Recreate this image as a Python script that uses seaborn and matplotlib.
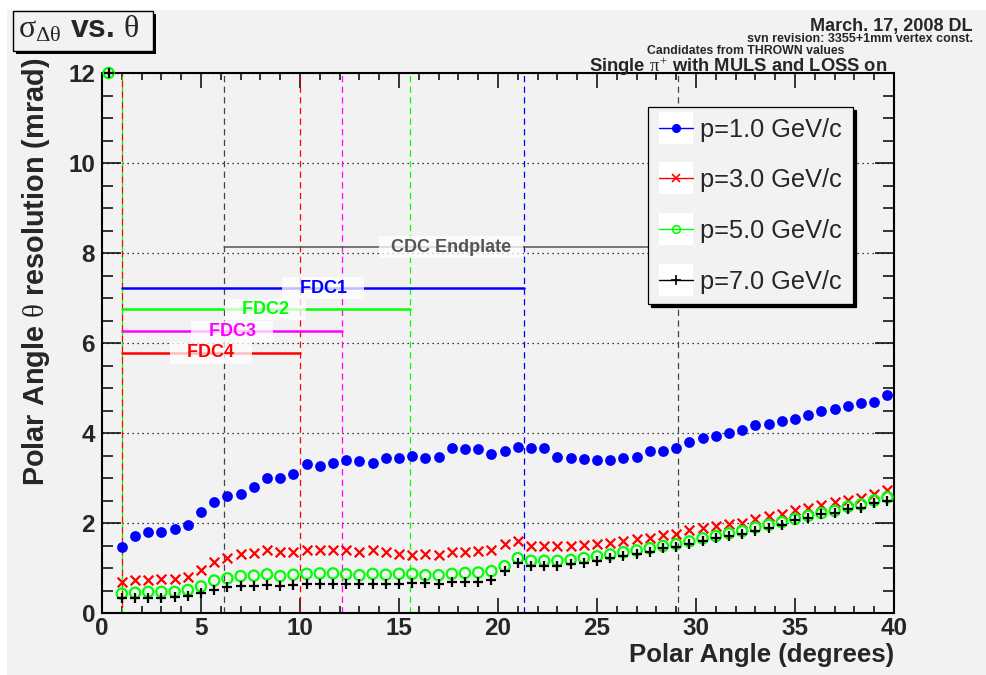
import numpy as np
import matplotlib
matplotlib.use("Agg")
import matplotlib.pyplot as plt
import seaborn as sns
from matplotlib.lines import Line2D
from matplotlib.patches import Rectangle
from matplotlib.legend_handler import HandlerLine2D
from matplotlib.ticker import MultipleLocator

nan = np.nan

# Polar-angle bin centres (degrees)
theta = [
    0.333, 1.000, 1.667, 2.333, 3.000, 3.667, 4.333, 5.000, 5.667, 6.333,
    7.000, 7.667, 8.333, 9.000, 9.667, 10.333, 11.000, 11.667, 12.333, 13.000,
    13.667, 14.333, 15.000, 15.667, 16.333, 17.000, 17.667, 18.333, 19.000, 19.667,
    20.333, 21.000, 21.667, 22.333, 23.000, 23.667, 24.333, 25.000, 25.667, 26.333,
    27.000, 27.667, 28.333, 29.000, 29.667, 30.333, 31.000, 31.667, 32.333, 33.000,
    33.667, 34.333, 35.000, 35.667, 36.333, 37.000, 37.667, 38.333, 39.000, 39.667,
]

# theta resolution (mrad) for each momentum
sigma_p1 = [
    nan, 1.47, 1.71, 1.80, 1.80, 1.87, 1.95, 2.24, 2.47, 2.61,
    2.64, 2.79, 2.99, 3.00, 3.10, 3.32, 3.27, 3.34, 3.39, 3.38,
    3.34, 3.44, 3.45, 3.49, 3.44, 3.47, 3.66, 3.64, 3.64, 3.54,
    3.61, 3.68, 3.66, 3.66, 3.47, 3.44, 3.43, 3.40, 3.41, 3.44,
    3.46, 3.59, 3.61, 3.66, 3.79, 3.90, 3.93, 4.00, 4.07, 4.18,
    4.21, 4.27, 4.32, 4.39, 4.49, 4.54, 4.59, 4.67, 4.70, 4.84,
]
sigma_p3 = [
    nan, 0.69, 0.73, 0.74, 0.75, 0.76, 0.80, 0.95, 1.14, 1.22,
    1.32, 1.33, 1.39, 1.35, 1.36, 1.40, 1.41, 1.41, 1.39, 1.36,
    1.39, 1.35, 1.32, 1.30, 1.32, 1.30, 1.35, 1.35, 1.37, 1.39,
    1.53, 1.60, 1.50, 1.48, 1.48, 1.49, 1.52, 1.53, 1.56, 1.60,
    1.64, 1.67, 1.73, 1.76, 1.84, 1.88, 1.93, 1.97, 2.01, 2.10,
    2.15, 2.21, 2.28, 2.33, 2.40, 2.47, 2.52, 2.56, 2.64, 2.74,
]
sigma_p5 = [
    12.0, 0.43, 0.45, 0.47, 0.47, 0.47, 0.51, 0.59, 0.72, 0.77,
    0.82, 0.83, 0.86, 0.82, 0.85, 0.87, 0.88, 0.88, 0.86, 0.84,
    0.87, 0.85, 0.87, 0.87, 0.84, 0.84, 0.87, 0.89, 0.90, 0.93,
    1.04, 1.22, 1.16, 1.16, 1.16, 1.18, 1.22, 1.26, 1.30, 1.35,
    1.39, 1.44, 1.49, 1.53, 1.59, 1.66, 1.71, 1.77, 1.82, 1.90,
    1.96, 2.02, 2.09, 2.16, 2.22, 2.27, 2.36, 2.41, 2.50, 2.57,
]
sigma_p7 = [
    12.0, 0.33, 0.33, 0.33, 0.34, 0.35, 0.37, 0.44, 0.52, 0.57,
    0.59, 0.60, 0.63, 0.61, 0.62, 0.64, 0.64, 0.65, 0.65, 0.64,
    0.64, 0.64, 0.65, 0.67, 0.66, 0.65, 0.68, 0.68, 0.70, 0.74,
    0.93, 1.12, 1.04, 1.04, 1.04, 1.08, 1.11, 1.16, 1.22, 1.26,
    1.32, 1.36, 1.44, 1.46, 1.53, 1.61, 1.67, 1.71, 1.76, 1.83,
    1.90, 1.95, 2.06, 2.11, 2.19, 2.22, 2.31, 2.34, 2.44, 2.50,
]
momentum_labels = ["p=1.0 GeV/c", "p=3.0 GeV/c", "p=5.0 GeV/c", "p=7.0 GeV/c"]

# Detector acceptance boundaries (degrees)
fdc_names = ["FDC1", "FDC2", "FDC3", "FDC4"]
fdc_theta_min = [1.0, 1.0, 1.0, 1.0]
fdc_theta_max = [21.33, 15.54, 12.14, 10.0]
fdc_level = [7.22, 6.75, 6.26, 5.78]
cdc_name = "CDC Endplate"
cdc_theta_min = 6.16
cdc_theta_max = 29.1
cdc_level = 8.13

BLUE, RED, GREEN, MAGENTA, GREY = "#0000ff", "#ff0000", "#00ff00", "#ff00ff", "#444444"
fdc_colors = [BLUE, GREEN, MAGENTA, RED]
BG = "#f2f2f2"

sns.set_style("ticks")
plt.rcParams.update({
    "font.family": ["Liberation Sans", "DejaVu Sans"],
    "font.weight": "bold",
    "mathtext.fontset": "custom",
    "mathtext.rm": "Liberation Serif:weight=normal",
    "mathtext.it": "Liberation Serif:weight=normal",
    "mathtext.bf": "Liberation Serif:bold",
    "axes.linewidth": 1.5,
    "axes.edgecolor": "black",
})

fig = plt.figure(figsize=(9.86, 6.75), dpi=100, facecolor="white")
W, H = 986.0, 675.0
fig.add_artist(Rectangle((7 / W, 0), 1, 1 - 10 / H, transform=fig.transFigure,
                         facecolor=BG, edgecolor="none", zorder=-10))
ax = fig.add_axes([102 / W, 62 / H, 792 / W, 540 / H])
ax.set_facecolor(BG)

# Measured points
sns.scatterplot(x=theta, y=sigma_p1, ax=ax, marker="o", s=60, color=BLUE,
                edgecolor=BLUE, linewidth=0, zorder=4, clip_on=False)
sns.scatterplot(x=theta, y=sigma_p3, ax=ax, marker="x", s=48, color=RED,
                linewidth=1.6, zorder=4, clip_on=False)
sns.scatterplot(x=theta, y=sigma_p5, ax=ax, marker="o", s=55, color=GREEN,
                facecolor="none", edgecolor=GREEN, linewidth=1.6, zorder=4, clip_on=False)
sns.scatterplot(x=theta, y=sigma_p7, ax=ax, marker="+", s=58, color="black",
                linewidth=1.6, zorder=5, clip_on=False)

ax.set_xlim(0, 40)
ax.set_ylim(0, 12)

# Horizontal dotted grid
ax.yaxis.grid(True, color="black", linestyle=(0, (1, 3)), linewidth=0.9)
ax.xaxis.grid(False)

# Dashed acceptance boundaries
dash = (0, (5, 3.5))
for t, c in zip(fdc_theta_max, fdc_colors):
    ax.axvline(t, color=c, linestyle=dash, linewidth=0.9, zorder=2)
ax.axvline(fdc_theta_min[0], color=GREEN, linestyle=dash, linewidth=0.9, zorder=2)
ax.axvline(fdc_theta_min[0], color=RED, linestyle=(4, (5, 3.5)), linewidth=0.9, zorder=2)
for t in (cdc_theta_min, cdc_theta_max):
    ax.axvline(t, color=GREY, linestyle=dash, linewidth=0.9, zorder=2)

# Acceptance ranges with labels
label_box = dict(boxstyle="square,pad=0.12", facecolor="white", edgecolor="none", alpha=0.75)
for name, lo, hi, lev, c in zip(fdc_names, fdc_theta_min, fdc_theta_max, fdc_level, fdc_colors):
    ax.plot([lo, hi], [lev, lev], color=c, linewidth=1.8, zorder=3)
    ax.text((lo + hi) / 2, lev, f"   {name}   ", color=c, fontsize=13, fontweight="bold",
            ha="center", va="center", bbox=label_box, zorder=3.5)
ax.plot([cdc_theta_min, cdc_theta_max], [cdc_level, cdc_level], color="#555555",
        linewidth=1.1, zorder=3)
ax.text((cdc_theta_min + cdc_theta_max) / 2, cdc_level, f"  {cdc_name}  ", color="#555555",
        fontsize=13, fontweight="bold", ha="center", va="center", bbox=label_box, zorder=3.5)

# Axes, ticks
ax.xaxis.set_major_locator(MultipleLocator(5))
ax.xaxis.set_minor_locator(MultipleLocator(1))
ax.yaxis.set_major_locator(MultipleLocator(2))
ax.yaxis.set_minor_locator(MultipleLocator(0.5))
ax.tick_params(which="both", direction="in", top=True, right=True, width=1.1,
               color="black", labelsize=17.5)
ax.tick_params(axis="x", which="major", length=10.8, pad=3)
ax.tick_params(axis="x", which="minor", length=5.2)
ax.tick_params(axis="y", which="major", length=14, pad=5)
ax.tick_params(axis="y", which="minor", length=8)
for s in ax.spines.values():
    s.set_visible(True)
    s.set_linewidth(1.5)

ax.set_xlabel("Polar Angle (degrees)", fontsize=18.5, fontweight="bold", loc="right")
ax.xaxis.set_label_coords(1.0, -0.056)
ax.set_ylabel(r"Polar Angle $\theta$ resolution (mrad)", fontsize=20.8,
              fontweight="bold", loc="top")
ax.yaxis.set_label_coords(-0.063, 1.028)


class BoxedLine(HandlerLine2D):
    """Legend line sample drawn on a white backing box."""

    def create_artists(self, legend, orig_handle, xdescent, ydescent, width, height,
                       fontsize, trans):
        arts = super().create_artists(legend, orig_handle, xdescent, ydescent, width,
                                      height, fontsize, trans)
        pad = 0.4 * height
        box = Rectangle((-xdescent, -ydescent - pad), width, height + 2 * pad,
                        facecolor="white", edgecolor="none", transform=trans)
        return [box] + list(arts)


handles = [
    Line2D([], [], color=BLUE, lw=1, marker="o", ms=5.5, mec=BLUE),
    Line2D([], [], color=RED, lw=1, marker="x", ms=5.5, mew=1.2),
    Line2D([], [], color=GREEN, lw=1, marker="o", ms=5.5, mfc="none", mew=1.2),
    Line2D([], [], color="black", lw=1, marker="+", ms=6.5, mew=1.2),
]
leg = ax.legend(handles, momentum_labels, loc="upper left",
                bbox_to_anchor=(648 / W, 1 - 107 / H), bbox_transform=fig.transFigure,
                prop={"family": "Liberation Sans", "weight": "normal", "size": 18.3},
                frameon=True, fancybox=False, edgecolor="black", facecolor=BG,
                framealpha=1, shadow={"color": "black", "alpha": 1}, borderaxespad=0,
                borderpad=0.42, handlelength=1.36, handletextpad=0.28, labelspacing=1.05,
                numpoints=1, handler_map={Line2D: BoxedLine()})
leg.get_frame().set_linewidth(0.9)
leg.set_zorder(10)

# Title box
fig.add_artist(Rectangle((16 / W, 1 - 54 / H), 140 / W, 40 / H, transform=fig.transFigure,
                         facecolor="black", edgecolor="none"))
fig.add_artist(Rectangle((13 / W, 1 - 51 / H), 140 / W, 40 / H, transform=fig.transFigure,
                         facecolor=BG, edgecolor="black", linewidth=1))
fig.text(18 / W, 1 - 37 / H, r"$\sigma_{\Delta\theta}$ vs. $\theta$", fontsize=23,
         fontweight="bold", ha="left", va="baseline")

# Run annotations
fig.text(972 / W, 1 - 31 / H, "March. 17, 2008 DL", fontsize=13, fontweight="bold",
         ha="right", va="baseline")
fig.text(973 / W, 1 - 42.5 / H, "svn revision: 3355+1mm vertex const.", fontsize=9,
         fontweight="bold", ha="right", va="baseline")
fig.text(746 / W, 1 - 53.5 / H, "Candidates from THROWN values", fontsize=8.8,
         fontweight="bold", ha="center", va="baseline")
fig.text(887 / W, 1 - 72.5 / H, r"Single $\pi^{+}$ with MULS and LOSS on", fontsize=13.2,
         fontweight="bold", ha="right", va="baseline")

fig.savefig("out.png", dpi=100, facecolor="white")
